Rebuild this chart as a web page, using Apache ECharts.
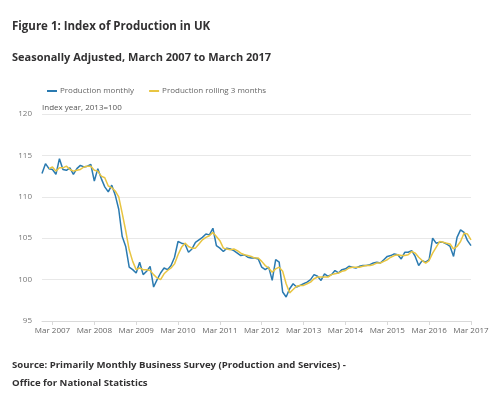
<!DOCTYPE html>
<html>
<head>
<meta charset="utf-8">
<script src="https://cdn.jsdelivr.net/npm/echarts@6/dist/echarts.min.js"></script>
<style>
    html, body { margin: 0; padding: 0; background: #ffffff; }
    #chart { width: 500px; height: 399px; }
</style>
</head>
<body>
<div id="chart"></div>
<script>
    // months Dec 2006 .. Mar 2017
    const monthNames = ['Jan', 'Feb', 'Mar', 'Apr', 'May', 'Jun', 'Jul', 'Aug', 'Sep', 'Oct', 'Nov', 'Dec'];
    const firstYear = 2006;
    const firstMonth = 11; // Dec
    const pointCount = 124;

    const yTicks = [95, 100, 105, 110, 115, 120];

    const monthly = [
        112.8, 114.0, 113.4, 113.3, 112.7, 114.6, 113.3, 113.2, 113.5, 112.7, 113.4, 113.8,
        113.6, 113.7, 113.9, 111.9, 113.4, 112.2, 111.2, 110.6, 111.4, 110.2, 108.5, 105.2,
        104.0, 101.5, 101.2, 100.8, 102.1, 100.6, 101.0, 101.6, 99.1, 100.0, 100.8, 101.4,
        101.2, 101.7, 102.7, 104.6, 104.4, 104.3, 103.3, 103.7, 104.5, 104.8, 105.1, 105.5,
        105.4, 106.2, 104.1, 103.8, 103.4, 103.8, 103.7, 103.5, 103.2, 102.9, 103.0, 102.7,
        102.6, 102.6, 102.5, 101.5, 101.2, 101.5, 99.9, 102.4, 102.1, 98.5, 97.9, 98.9,
        99.5, 99.1, 99.3, 99.5, 99.7, 100.0, 100.6, 100.4, 99.9, 100.7, 100.4, 100.6,
        101.1, 100.8, 101.2, 101.3, 101.6, 101.5, 101.4, 101.6, 101.7, 101.7, 101.8, 102.0,
        102.1, 102.0, 102.4, 102.8, 102.9, 103.1, 103.0, 102.5, 103.3, 103.3, 103.5, 102.8,
        101.7, 102.3, 102.1, 102.4, 105.0, 104.4, 104.5, 104.5, 104.3, 104.0, 102.8, 105.1,
        106.0, 105.7, 104.7, 104.1
    ];

    const rolling = [
        null, null, 113.4, 113.6, 113.1, 113.5, 113.5, 113.7, 113.3, 113.1, 113.2, 113.3,
        113.6, 113.7, 113.7, 113.2, 113.1, 112.5, 112.3, 111.3, 111.1, 110.7, 110.0, 108.0,
        105.9, 103.6, 102.2, 101.2, 101.4, 101.2, 101.2, 101.1, 100.6, 100.2, 100.0, 100.7,
        101.1, 101.4, 101.9, 103.0, 103.9, 104.4, 104.0, 103.8, 103.8, 104.3, 104.8, 105.1,
        105.3, 105.7, 105.2, 104.7, 103.8, 103.7, 103.6, 103.7, 103.5, 103.2, 103.0, 102.9,
        102.8, 102.6, 102.6, 102.2, 101.7, 101.4, 100.9, 101.3, 101.5, 101.0, 99.5, 98.4,
        98.8, 99.2, 99.3, 99.3, 99.5, 99.7, 100.1, 100.3, 100.3, 100.3, 100.3, 100.6,
        100.7, 100.8, 101.0, 101.1, 101.4, 101.5, 101.5, 101.5, 101.6, 101.7, 101.7, 101.8,
        102.0, 102.0, 102.2, 102.4, 102.7, 102.9, 103.0, 102.9, 102.9, 103.0, 103.4, 103.2,
        102.7, 102.3, 102.0, 102.3, 103.2, 103.9, 104.6, 104.5, 104.4, 104.3, 103.7, 104.0,
        104.6, 105.6, 105.5, 104.8
    ];

    const categories = [];
    for (let i = 0; i < pointCount; i++) {
        const m = (firstMonth + i) % 12;
        const y = firstYear + Math.floor((firstMonth + i) / 12);
        categories.push(monthNames[m] + ' ' + y);
    }
    const isMarch = (index) => categories[index].indexOf('Mar') === 0;

    const chart = echarts.init(document.getElementById('chart'));
    chart.setOption({
        animation: false,
        textStyle: { fontFamily: 'Open Sans' },
        title: [
            {
                text: 'Figure 1: Index of Production in UK',
                left: 12, top: 21, padding: 0,
                textStyle: { fontSize: 11.5, fontWeight: 'bold', color: '#323132' },
            },
            {
                text: 'Seasonally Adjusted, March 2007 to March 2017',
                left: 12, top: 52, padding: 0,
                textStyle: { fontSize: 11, fontWeight: 'bold', color: '#323132' },
            },
            {
                text: 'Index year, 2013=100',
                left: 42, top: 104, padding: 0,
                textStyle: { fontSize: 8, fontWeight: 'normal', color: '#555555' },
            },
            {
                text: 'Source: Primarily Monthly Business Survey (Production and Services) -\nOffice for National Statistics',
                left: 12, top: 357, padding: 0,
                textStyle: { fontSize: 9.6, fontWeight: 'bold', color: '#323132', lineHeight: 17.5 },
            },
        ],
        legend: {
            left: 47, top: 87, padding: 0,
            itemWidth: 10, itemHeight: 2, itemGap: 15,
            icon: 'rect',
            textStyle: { fontSize: 8, color: '#666666', padding: [0, 0, 0, -2] },
            data: ['Production monthly', 'Production rolling 3 months'],
        },
        grid: { left: 42, right: 29, top: 114, bottom: 78 },
        xAxis: {
            type: 'category',
            boundaryGap: false,
            data: categories,
            axisLine: { lineStyle: { color: '#d9d9d9' } },
            axisTick: { interval: isMarch, length: 4, lineStyle: { color: '#d9d9d9' } },
            axisLabel: { interval: isMarch, fontSize: 8, color: '#666666', margin: 6 },
        },
        yAxis: {
            type: 'value',
            min: yTicks[0],
            max: yTicks[yTicks.length - 1],
            interval: 5,
            axisLine: { show: false },
            axisTick: { show: false },
            axisLabel: { fontSize: 8, color: '#777777', margin: 10 },
            splitLine: { lineStyle: { color: '#e8e8e8' } },
        },
        series: [
            {
                name: 'Production monthly',
                type: 'line',
                data: monthly,
                showSymbol: false,
                color: '#2a7ab0',
                lineStyle: { width: 1.5 },
            },
            {
                name: 'Production rolling 3 months',
                type: 'line',
                data: rolling,
                showSymbol: false,
                color: '#e8c542',
                lineStyle: { width: 1.5 },
            },
        ],
    });
</script>
</body>
</html>
